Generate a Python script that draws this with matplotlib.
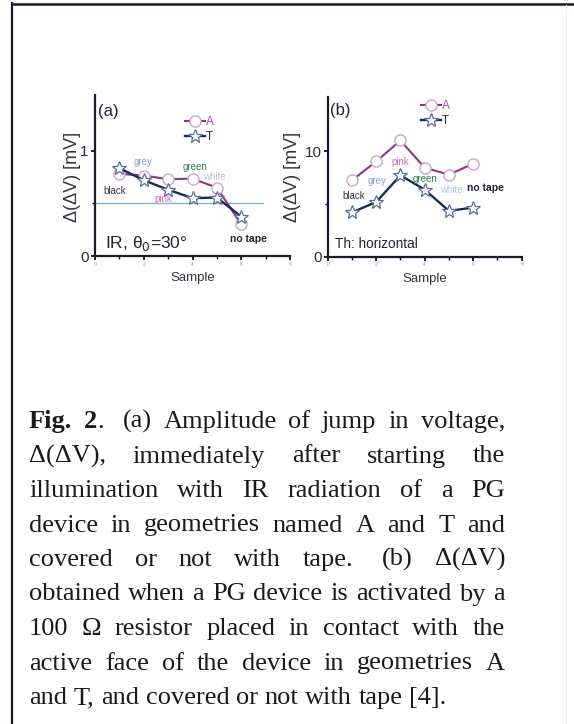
import numpy as np
import matplotlib.pyplot as plt
from matplotlib.lines import Line2D

# ---- data ----
samples = [1, 2, 3, 4, 5, 6]

# panel (a): IR, theta0 = 30 deg
a_geomA = [0.78, 0.765, 0.73, 0.735, 0.65, 0.30]
a_geomT = [0.835, 0.72, 0.63, 0.55, 0.555, 0.375]
a_ref_level = 0.50

# panel (b): resistor, Th horizontal
b_geomA = [7.26, 9.05, 11.04, 8.45, 7.8, 8.83]
b_geomT = [4.2, 5.2, 7.73, 6.37, 4.35, 4.67]

tape_names = ['black', 'grey', 'pink', 'green', 'white', 'no tape']
tape_colors = ['#333344', '#8f9fd0', '#d070b8', '#2d7a55', '#b4c0dc', '#222233']
a_label_pos = [(0.82, 0.62), (1.98, 0.89), (2.8, 0.54), (4.1, 0.845), (4.9, 0.755), (6.3, 0.16)]
b_label_pos = [(1.06, 5.8), (2.05, 7.2), (2.98, 9.0), (4.0, 7.4), (5.1, 6.3), (6.5, 6.55)]

caption_lines = [
    'Fig. 2.  (a) Amplitude of jump in voltage,',
    'Δ(ΔV), immediately after starting the',
    'illumination with IR radiation of a PG',
    'device in geometries named A and T and',
    'covered or not with tape.  (b) Δ(ΔV)',
    'obtained when a PG device is activated by a',
    '100 Ω resistor placed in contact with the',
    'active face of the device in geometries A',
    'and T, and covered or not with tape [4].',
]

W, H = 574, 724
fig = plt.figure(figsize=(W / 100, H / 100), dpi=100)
fig.patch.set_facecolor('white')

plt.rcParams['font.family'] = ['Liberation Sans', 'DejaVu Sans']

colA = '#873a7e'
colT = '#1c2b5a'
edgeA = '#c9a6c8'
edgeT = '#5b6d9e'


def box(px_left, px_top, px_right, px_bottom):
    return [px_left / W, 1 - px_bottom / H, (px_right - px_left) / W, (px_bottom - px_top) / H]


def style_axes(ax, ymax, ymajor, yminor):
    for s in ['top', 'right']:
        ax.spines[s].set_visible(False)
    for s in ['left', 'bottom']:
        ax.spines[s].set_linewidth(1.6)
        ax.spines[s].set_color('#1a1a2a')
    ax.set_xlim(0, 8)
    ax.set_ylim(0, ymax)
    ax.set_xticks([0, 2, 4, 6, 8])
    ax.set_xticks([1, 3, 5, 7], minor=True)
    ax.set_yticks(ymajor)
    ax.set_yticks(yminor, minor=True)
    ax.tick_params(axis='x', which='major', length=3, width=1.2, labelsize=3.5,
                   labelcolor='#8890b0', pad=1)
    ax.tick_params(axis='x', which='minor', length=2, width=1.0)
    ax.tick_params(axis='y', which='major', length=3, width=1.2, labelsize=11, pad=1.5,
                   labelcolor='#2a2a3a')
    ax.tick_params(axis='y', which='minor', length=2, width=1.0)
    ax.set_xlabel('Sample', fontsize=9.5, color='#333344')
    ax.xaxis.set_label_coords(0.5, -0.10)
    ax.set_ylabel('Δ(ΔV) [mV]', fontsize=13, color='#333344')
    ax.patch.set_alpha(0)


def draw_series(ax, yA, yT):
    ax.plot(samples, yA, color=colA, lw=1.5, marker='o', ms=8, mfc='white',
            mec=edgeA, mew=1.0, label='A', zorder=3)
    ax.plot(samples, yT, color=colT, lw=1.7, marker='*', ms=10.5, mfc='white',
            mec=edgeT, mew=0.9, label='T', zorder=3)


def add_legend(ax, anchor):
    ax.legend(loc='upper left', bbox_to_anchor=anchor, frameon=False, fontsize=8.5,
              handlelength=1.7, handletextpad=0.1, borderpad=0, borderaxespad=0,
              labelspacing=0.25, labelcolor=['#b0409a', colT])


# ---- panel (a) ----
axa = fig.add_axes(box(95, 95, 290, 256))
style_axes(axa, 1.53, [0, 1], [0.5])
axa.plot([0, 6.9], [a_ref_level, a_ref_level], color='#7fb8d6', lw=1.0, zorder=1)
draw_series(axa, a_geomA, a_geomT)
for name, c, (x, y) in zip(tape_names, tape_colors, a_label_pos):
    bold = name == 'no tape'
    axa.text(x, y, name, color=c, fontsize=7.5 if bold else 7, ha='center', va='center',
             fontweight='bold' if bold else 'normal')
axa.text(0.4, 0.12, 'IR, θ$_0$=30°', fontsize=12.5, color='#222233', va='center')
axa.text(0.12, 1.37, '(a)', fontsize=12, color='#222233', va='center')
axa.yaxis.set_label_coords(-0.07, 0.49)
add_legend(axa, (0.46, 0.87))

# ---- panel (b) ----
axb = fig.add_axes(box(327.7, 96.7, 521.7, 256.7))
style_axes(axb, 15.2, [0, 10], [5])
draw_series(axb, b_geomA, b_geomT)
for name, c, (x, y) in zip(tape_names, tape_colors, b_label_pos):
    bold = name == 'no tape'
    axb.text(x, y, name, color=c, fontsize=7.5 if bold else 7, ha='center', va='center',
             fontweight='bold' if bold else 'normal')
axb.text(0.3, 1.2, 'Th: horizontal', fontsize=9.8, color='#222233', va='center')
axb.text(0.1, 13.9, '(b)', fontsize=12, color='#222233', va='center')
axb.yaxis.set_label_coords(-0.14, 0.5)
add_legend(axb, (0.48, 0.98))

# ---- frame around the figure ----
fig.add_artist(Line2D([12 / W, 12 / W], [0, 1 - 3 / H], color='#1a1a28', lw=1.6))
fig.add_artist(Line2D([12 / W, 1], [1 - 3.5 / H, 1 - 3.5 / H], color='#1a1a28', lw=1.8))
fig.add_artist(Line2D([566 / W, 566 / W], [0, 1 - 5 / H], color='#eeeeee', lw=0.8))

# ---- justified caption ----
serif = ['Liberation Serif', 'DejaVu Serif']
cap_size = 19
left_px, right_px = 29, 505
base0, step = 428, 34.5
renderer = fig.canvas.get_renderer()


def word_width(word, bold=False):
    t = fig.text(0, 0, word, fontsize=cap_size, family=serif,
                 fontweight='bold' if bold else 'normal')
    w = t.get_window_extent(renderer).width
    t.remove()
    return w


space_w = word_width('a b') - word_width('ab')

for i, line in enumerate(caption_lines):
    yb = 1 - (base0 + i * step) / H
    # tokens: (word, bold, extra space before it, glued to previous)
    tokens = []
    extra = 0
    for w in line.split(' '):
        if w == '':
            extra += space_w
            continue
        tokens.append([w, False, extra, False])
        extra = 0
    if i == 0:
        # "Fig. 2" in bold, the "." after it regular and glued
        tokens = [['Fig.', True, 0, False], ['2', True, 0, False], ['.', False, 0, True]] + tokens[2:]
    widths = [word_width(t[0], t[1]) for t in tokens]
    n_gaps = sum(1 for t in tokens[1:] if not t[3])
    fixed = sum(widths) + sum(t[2] for t in tokens)
    if i == len(caption_lines) - 1:
        gap = space_w
    else:
        gap = (right_px - left_px - fixed) / n_gaps
    x = left_px
    for k, (t, ww) in enumerate(zip(tokens, widths)):
        if k > 0:
            x += t[2] + (0 if t[3] else gap)
        fig.text(x / W, yb, t[0], fontsize=cap_size, family=serif, va='baseline',
                 fontweight='bold' if t[1] else 'normal', color='#1a1a1a')
        x += ww

fig.savefig('out.png', dpi=100, facecolor='white')
